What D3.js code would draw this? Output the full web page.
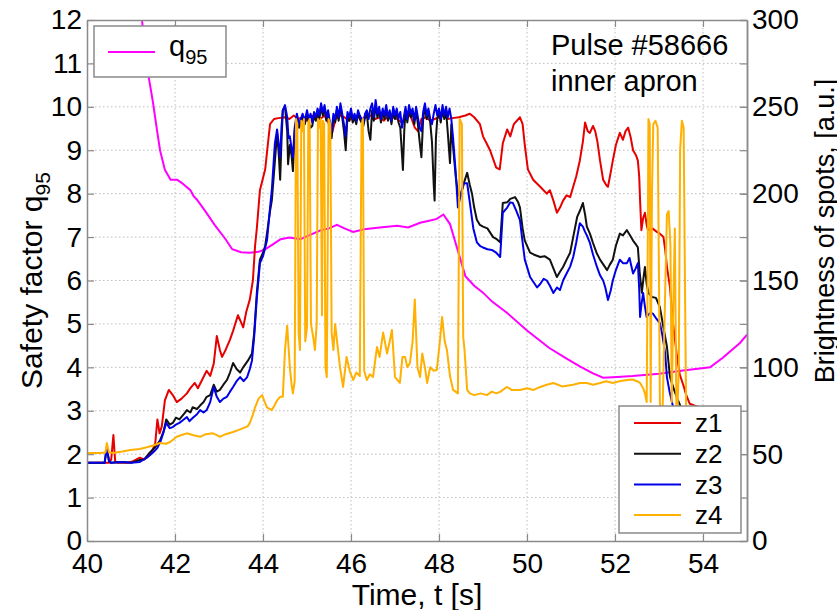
<!DOCTYPE html>
<html>
<head>
<meta charset="utf-8">
<script src="https://cdn.jsdelivr.net/npm/d3@7"></script>
<style>
  body { margin: 0; background: #fff; }
  text { font-family: "Liberation Sans", Arial, Helvetica, sans-serif; fill: #000; }
</style>
</head>
<body>
<div id="chart"></div>
<script>
// Pulse #58666 - safety factor and spot brightness vs time

// x ticks, y ticks
const timeTicks = [40, 42, 44, 46, 48, 50, 52, 54];
const qTicks = [0, 1, 2, 3, 4, 5, 6, 7, 8, 9, 10, 11, 12];
const brightTicks = [0, 50, 100, 150, 200, 250, 300];

// q95 on left axis: [t, q]
const q95 = [
  [41.1, 12.2], [41.25, 12.0], [41.35, 11.0], [41.45, 10.4], [41.5, 10.1], [41.6, 9.4], [41.66, 9.0],
  [41.77, 8.55], [41.9, 8.32], [42.05, 8.32], [42.15, 8.25], [42.35, 8.08], [42.42, 7.95], [42.5, 7.86],
  [42.7, 7.58], [42.9, 7.28], [43.15, 6.95], [43.3, 6.72], [43.5, 6.65], [43.7, 6.64], [43.9, 6.66],
  [44.05, 6.72], [44.25, 6.85], [44.4, 6.95], [44.6, 6.99], [44.85, 6.95], [45.07, 7.05], [45.3, 7.15],
  [45.5, 7.2], [45.68, 7.28], [45.85, 7.2], [46.05, 7.12], [46.3, 7.18], [46.65, 7.22], [47.05, 7.26],
  [47.3, 7.22], [47.57, 7.33], [47.8, 7.38], [47.95, 7.42], [48.1, 7.52], [48.25, 7.3], [48.43, 6.68],
  [48.6, 6.1], [48.8, 5.88], [49.0, 5.72], [49.2, 5.52], [49.55, 5.25], [50.0, 4.85], [50.5, 4.45],
  [50.9, 4.2], [51.2, 4.02], [51.5, 3.86], [51.73, 3.76], [52.05, 3.78], [52.4, 3.8], [53.0, 3.85],
  [53.5, 3.92], [54.16, 4.0], [54.45, 4.22], [54.84, 4.56], [55.0, 4.75]
];

// brightness z1..z4 on right axis: [t, a.u.]
const z1 = [
  [40.0, 45], [40.3, 45], [40.5, 45], [40.55, 47], [40.6, 61], [40.64, 46], [40.7, 45], [40.9, 45],
  [41.05, 46], [41.2, 48], [41.3, 47], [41.45, 50], [41.55, 56], [41.6, 70], [41.65, 62], [41.7, 66],
  [41.77, 81], [41.86, 87], [41.95, 84], [42.04, 80], [42.15, 82], [42.27, 85], [42.35, 88], [42.45, 91],
  [42.52, 88], [42.6, 92], [42.72, 98], [42.8, 95], [42.88, 102], [42.95, 118], [43.02, 110], [43.07, 106],
  [43.15, 110], [43.25, 116], [43.32, 121], [43.43, 130], [43.5, 126], [43.55, 123], [43.62, 132],
  [43.7, 139], [43.77, 150], [43.82, 170], [43.86, 180], [43.93, 202], [44.0, 209], [44.05, 214],
  [44.1, 226], [44.16, 240], [44.25, 243], [44.35, 243.5], [44.5, 244], [44.6, 243], [44.7, 245],
  [44.8, 243], [44.9, 244], [45.0, 242], [45.1, 245], [45.2, 244], [45.3, 243], [45.4, 245], [45.5, 240],
  [45.57, 235], [45.65, 243], [45.75, 245], [45.85, 244], [45.95, 242], [46.05, 244], [46.15, 245],
  [46.25, 243], [46.35, 244], [46.45, 245], [46.55, 243], [46.65, 244], [46.75, 242], [46.85, 245],
  [46.95, 244], [47.05, 243], [47.15, 241], [47.25, 244], [47.35, 245], [47.45, 238], [47.52, 236],
  [47.6, 243], [47.7, 244], [47.8, 242], [47.9, 243], [48.0, 244], [48.1, 245], [48.2, 243], [48.3, 243.5],
  [48.45, 244], [48.6, 245], [48.7, 246], [48.8, 244], [48.93, 240], [49.0, 233], [49.08, 229],
  [49.16, 225], [49.3, 215], [49.38, 214], [49.45, 229], [49.55, 237], [49.62, 233], [49.7, 240],
  [49.77, 242], [49.84, 244], [49.9, 240], [49.95, 228], [50.02, 214], [50.14, 208], [50.3, 204],
  [50.45, 200], [50.52, 202], [50.6, 196], [50.68, 189], [50.75, 192], [50.82, 196], [50.9, 199],
  [50.98, 198], [51.05, 204], [51.12, 210], [51.2, 219], [51.27, 230], [51.32, 241], [51.38, 236],
  [51.43, 235], [51.5, 239], [51.55, 236], [51.6, 230], [51.66, 219], [51.73, 208], [51.8, 205],
  [51.84, 204], [51.9, 212], [51.95, 219], [52.02, 228], [52.11, 235], [52.18, 231], [52.24, 236],
  [52.3, 238], [52.36, 232], [52.41, 225], [52.48, 222], [52.52, 219], [52.55, 210], [52.57, 196],
  [52.6, 179], [52.64, 186], [52.68, 189], [52.72, 182], [52.75, 179], [52.85, 180], [52.95, 178],
  [53.02, 177], [53.1, 175], [53.14, 168], [53.18, 158], [53.25, 146], [53.32, 125], [53.4, 108],
  [53.47, 96], [53.55, 90], [53.62, 84], [53.7, 79], [53.8, 78], [53.93, 77], [54.05, 75]
];

const z2 = [
  [40.0, 45], [40.4, 45], [40.45, 54], [40.5, 46], [40.55, 45], [40.8, 45.5], [41.0, 45], [41.2, 46.6],
  [41.3, 47], [41.43, 51], [41.55, 54], [41.66, 58], [41.74, 63], [41.8, 70], [41.88, 67], [41.95, 68],
  [42.02, 71], [42.1, 70], [42.2, 73], [42.27, 75.4], [42.35, 74], [42.4, 77], [42.5, 76], [42.57, 78],
  [42.65, 80], [42.72, 83], [42.8, 84], [42.88, 90], [42.95, 86], [43.02, 87], [43.1, 90], [43.18, 92.7],
  [43.25, 97], [43.32, 102.5], [43.4, 99], [43.48, 97], [43.55, 100], [43.66, 104], [43.75, 108],
  [43.8, 120], [43.86, 143], [43.93, 162], [44.0, 166], [44.05, 170], [44.09, 177], [44.16, 190],
  [44.2, 196], [44.25, 212], [44.32, 235], [44.36, 222], [44.39, 208], [44.42, 230], [44.45, 248],
  [44.5, 250], [44.55, 236], [44.57, 217], [44.61, 228], [44.65, 222], [44.68, 213], [44.72, 236],
  [44.77, 244], [44.82, 238], [44.86, 241], [44.9, 244], [44.95, 240], [45.0, 246], [45.04, 241],
  [45.08, 238], [45.12, 239], [45.16, 245], [45.2, 242], [45.24, 247], [45.28, 243], [45.32, 250],
  [45.36, 245], [45.4, 249], [45.44, 242], [45.48, 246], [45.52, 238], [45.56, 232], [45.6, 244],
  [45.64, 241], [45.68, 248], [45.72, 242], [45.76, 250], [45.8, 244], [45.84, 236], [45.88, 225],
  [45.92, 245], [45.96, 242], [46.0, 247], [46.04, 241], [46.08, 244], [46.12, 240], [46.16, 246],
  [46.2, 243], [46.24, 241], [46.28, 239], [46.32, 244], [46.36, 246], [46.4, 236], [46.44, 231],
  [46.48, 248], [46.52, 242], [46.56, 251], [46.6, 244], [46.64, 248], [46.68, 241], [46.72, 247],
  [46.76, 243], [46.8, 249], [46.84, 242], [46.88, 246], [46.92, 240], [46.96, 248], [47.0, 243],
  [47.04, 247], [47.08, 241], [47.12, 238], [47.16, 222], [47.18, 213.6], [47.21, 236], [47.24, 248],
  [47.28, 241], [47.32, 249], [47.36, 244], [47.4, 247], [47.44, 240], [47.48, 248], [47.52, 240],
  [47.56, 230], [47.6, 221], [47.64, 243], [47.68, 250], [47.72, 243], [47.76, 247], [47.8, 241],
  [47.84, 230], [47.88, 205], [47.9, 196], [47.93, 232], [47.96, 243], [48.0, 247], [48.04, 241],
  [48.08, 249], [48.12, 243], [48.16, 248], [48.2, 235], [48.25, 217.6], [48.28, 240], [48.32, 227],
  [48.38, 210], [48.43, 200], [48.48, 198], [48.55, 205], [48.64, 212], [48.7, 205], [48.75, 200],
  [48.8, 192], [48.86, 185], [48.93, 182], [49.0, 181], [49.1, 180], [49.23, 175], [49.3, 174],
  [49.39, 172], [49.45, 194.6], [49.55, 195], [49.62, 197], [49.73, 198], [49.8, 195], [49.84, 192],
  [49.9, 180], [49.95, 173], [50.07, 166], [50.15, 165], [50.3, 163.5], [50.4, 164], [50.52, 162],
  [50.6, 157], [50.68, 152], [50.75, 155], [50.82, 157.8], [50.9, 162], [50.98, 166], [51.05, 175],
  [51.14, 186.6], [51.2, 190], [51.27, 194.6], [51.32, 188], [51.36, 181], [51.43, 177], [51.5, 171.6],
  [51.58, 166], [51.66, 162], [51.74, 159], [51.82, 156], [51.88, 159], [51.95, 162], [52.02, 170],
  [52.11, 177], [52.18, 176], [52.27, 179], [52.34, 176], [52.41, 173], [52.47, 171], [52.52, 169],
  [52.56, 155], [52.61, 143], [52.65, 152], [52.68, 157.8], [52.72, 148], [52.76, 142.8], [52.84, 140.5],
  [52.93, 140], [53.02, 134.7], [53.1, 123], [53.18, 112], [53.25, 94.4], [53.33, 88], [53.4, 83],
  [53.5, 77], [53.58, 70]
];

const z3 = [
  [40.0, 45], [40.4, 45], [40.45, 53.6], [40.5, 46], [40.55, 45], [40.8, 45.5], [41.0, 45], [41.2, 45.5],
  [41.36, 48], [41.5, 51], [41.6, 53.6], [41.68, 58], [41.73, 62], [41.8, 68], [41.88, 65], [41.95, 65.6],
  [42.02, 67], [42.1, 68], [42.2, 70], [42.27, 71.4], [42.33, 69], [42.4, 70.8], [42.5, 73], [42.57, 75.4],
  [42.65, 74], [42.72, 75.4], [42.8, 80], [42.88, 88.7], [42.95, 83], [43.02, 80], [43.1, 82], [43.18, 83],
  [43.25, 86], [43.32, 88.7], [43.4, 92], [43.48, 94.4], [43.56, 92], [43.64, 94.4], [43.7, 99],
  [43.75, 104], [43.8, 118], [43.86, 140], [43.93, 160], [44.0, 164], [44.09, 173], [44.16, 192],
  [44.2, 202], [44.27, 229], [44.32, 237], [44.36, 228], [44.39, 221], [44.42, 238], [44.45, 248],
  [44.5, 251], [44.55, 244], [44.58, 232], [44.61, 233], [44.65, 226], [44.68, 221], [44.72, 238],
  [44.77, 246], [44.82, 240], [44.86, 243], [44.9, 246], [44.95, 242], [45.0, 248], [45.04, 243],
  [45.08, 246], [45.12, 241], [45.16, 247], [45.2, 244], [45.24, 249], [45.28, 245], [45.32, 252],
  [45.36, 247], [45.4, 251], [45.44, 244], [45.48, 248], [45.52, 241], [45.56, 236], [45.6, 246],
  [45.64, 243], [45.68, 250], [45.72, 244], [45.76, 252], [45.8, 246], [45.84, 240], [45.88, 233],
  [45.92, 247], [45.96, 244], [46.0, 249], [46.04, 243], [46.08, 246], [46.12, 242], [46.16, 248],
  [46.2, 245], [46.24, 243], [46.28, 241], [46.32, 246], [46.36, 248], [46.4, 243], [46.44, 249],
  [46.48, 252], [46.52, 244], [46.56, 254], [46.6, 246], [46.64, 250], [46.68, 243], [46.72, 249],
  [46.76, 245], [46.8, 251], [46.84, 244], [46.88, 248], [46.92, 242], [46.96, 250], [47.0, 245],
  [47.04, 249], [47.08, 243], [47.12, 247], [47.16, 238], [47.2, 244], [47.24, 250], [47.28, 243],
  [47.32, 251], [47.36, 246], [47.4, 249], [47.44, 242], [47.48, 250], [47.52, 244], [47.56, 238],
  [47.6, 236], [47.64, 247], [47.68, 252], [47.72, 245], [47.76, 249], [47.8, 243], [47.84, 240],
  [47.88, 246], [47.92, 251], [47.96, 245], [48.0, 249], [48.04, 243], [48.08, 251], [48.12, 245],
  [48.16, 250], [48.2, 244], [48.24, 249], [48.28, 243], [48.32, 232], [48.38, 212], [48.43, 192],
  [48.5, 200], [48.57, 206], [48.64, 206], [48.7, 195], [48.78, 180], [48.86, 172], [48.93, 170],
  [49.0, 169], [49.1, 168], [49.2, 167.6], [49.3, 166], [49.39, 163.5], [49.45, 189], [49.55, 192],
  [49.62, 195], [49.68, 194.6], [49.76, 190], [49.84, 184.8], [49.9, 172], [49.95, 162], [50.07, 152],
  [50.15, 149], [50.23, 146], [50.3, 148], [50.38, 151], [50.45, 150], [50.52, 147], [50.6, 142.8],
  [50.68, 146], [50.75, 144.5], [50.82, 150], [50.9, 154], [50.98, 158], [51.05, 163.5], [51.12, 172],
  [51.2, 183], [51.27, 181], [51.32, 178], [51.36, 176], [51.43, 171.6], [51.5, 165], [51.59, 157.8],
  [51.66, 153], [51.73, 150], [51.78, 146], [51.84, 138.8], [51.9, 144], [51.95, 150], [52.02, 156],
  [52.11, 162], [52.18, 160], [52.27, 160], [52.33, 163], [52.41, 154], [52.47, 157], [52.52, 160],
  [52.55, 145], [52.57, 129], [52.6, 136], [52.64, 142.8], [52.68, 135], [52.72, 129], [52.78, 131],
  [52.86, 131], [52.94, 128], [53.02, 125.5], [53.08, 118], [53.14, 108], [53.18, 94.4], [53.24, 86],
  [53.3, 79.5], [53.38, 70], [53.45, 62]
];

const z4 = [
  [40.0, 50.7], [40.3, 50.7], [40.42, 51], [40.45, 56.4], [40.5, 51], [40.6, 50.7], [40.8, 51.5],
  [40.98, 52.4], [41.2, 53], [41.36, 54], [41.5, 55], [41.66, 56.4], [41.8, 56], [41.89, 57], [42.04, 60],
  [42.15, 61], [42.27, 62], [42.4, 61], [42.57, 60], [42.7, 61.5], [42.86, 62], [42.95, 61], [43.02, 60],
  [43.15, 61.5], [43.32, 62.8], [43.45, 64], [43.55, 65], [43.65, 66], [43.7, 68], [43.76, 72],
  [43.82, 77], [43.9, 82], [43.98, 84], [44.04, 80], [44.09, 77], [44.2, 75.4], [44.26, 78], [44.32, 81],
  [44.39, 83], [44.45, 83], [44.5, 110], [44.55, 124], [44.58, 112], [44.61, 100], [44.65, 90],
  [44.68, 85], [44.72, 92], [44.75, 243], [44.78, 240], [44.81, 120], [44.84, 110], [44.87, 242],
  [44.9, 236], [44.93, 243], [44.96, 115], [45.0, 123], [45.03, 241], [45.06, 243], [45.09, 125],
  [45.14, 117.5], [45.18, 110], [45.22, 125], [45.25, 243], [45.28, 238], [45.31, 243], [45.34, 130],
  [45.36, 242], [45.39, 240], [45.42, 100], [45.45, 94.4], [45.49, 243], [45.53, 240], [45.56, 120],
  [45.6, 110], [45.64, 125], [45.68, 115.7], [45.75, 100], [45.82, 88.7], [45.9, 106], [45.97, 98],
  [46.05, 92.7], [46.12, 97], [46.2, 95], [46.24, 240], [46.27, 243], [46.3, 98], [46.36, 92.7],
  [46.43, 96], [46.5, 94.4], [46.59, 111.7], [46.65, 106], [46.73, 120], [46.82, 108], [46.88, 115],
  [46.93, 121.5], [47.0, 94.4], [47.11, 91], [47.17, 106], [47.23, 106], [47.28, 100], [47.34, 102.5],
  [47.4, 115], [47.45, 139], [47.51, 100], [47.57, 94.4], [47.62, 108], [47.68, 100], [47.73, 91],
  [47.8, 100], [47.88, 98], [47.95, 98.5], [48.02, 115], [48.07, 129], [48.13, 115], [48.18, 110],
  [48.25, 95], [48.32, 87], [48.43, 85], [48.47, 243], [48.52, 240], [48.55, 117.5], [48.58, 110],
  [48.64, 87], [48.7, 85], [48.8, 84], [48.95, 85], [49.09, 84], [49.2, 86], [49.3, 85], [49.4, 86],
  [49.5, 88], [49.55, 88.7], [49.65, 87], [49.84, 87], [50.0, 88], [50.15, 87], [50.3, 88.7], [50.45, 90],
  [50.6, 91], [50.8, 89], [51.05, 90], [51.2, 91], [51.36, 91], [51.5, 90], [51.66, 91], [51.8, 92],
  [51.95, 91], [52.1, 92], [52.27, 92.7], [52.4, 93], [52.5, 92], [52.57, 91], [52.64, 88], [52.68, 85],
  [52.72, 80], [52.74, 150], [52.76, 243], [52.79, 240], [52.81, 80], [52.84, 200], [52.87, 240],
  [52.92, 242], [52.97, 238], [53.0, 150], [53.02, 80], [53.07, 60], [53.12, 120], [53.18, 188],
  [53.22, 190], [53.26, 170], [53.29, 80], [53.32, 130], [53.36, 180], [53.4, 60], [53.45, 100],
  [53.48, 225], [53.52, 242], [53.56, 238], [53.6, 120], [53.63, 40], [53.7, 20]
];

const zSeries = [
  { name: 'z1', data: z1, color: '#e60000' },
  { name: 'z2', data: z2, color: '#111111' },
  { name: 'z3', data: z3, color: '#0000e6' },
  { name: 'z4', data: z4, color: '#ffb000' }
];

const width = 837, height = 610;
const margin = { top: 20, right: 90, bottom: 69, left: 87 };
const plotW = width - margin.left - margin.right;
const plotH = height - margin.top - margin.bottom;

const svg = d3.select('#chart').append('svg')
  .attr('width', width)
  .attr('height', height);

const x = d3.scaleLinear().domain([40, 55]).range([margin.left, margin.left + plotW]);
const yL = d3.scaleLinear().domain([0, 12]).range([margin.top + plotH, margin.top]);
const yR = d3.scaleLinear().domain([0, 300]).range([margin.top + plotH, margin.top]);

const axisColor = '#8a8a8a';

// grid
const grid = svg.append('g').attr('class', 'grid')
  .attr('stroke', '#bdbdbd').attr('stroke-width', 1).attr('stroke-dasharray', '1.5,2.5');
grid.selectAll('line.gx')
  .data(timeTicks.filter(d => d > 40))
  .enter().append('line')
  .attr('x1', d => x(d)).attr('x2', d => x(d))
  .attr('y1', margin.top).attr('y2', margin.top + plotH);
grid.selectAll('line.gy')
  .data(qTicks.filter(d => d > 0 && d < 12))
  .enter().append('line')
  .attr('x1', margin.left).attr('x2', margin.left + plotW)
  .attr('y1', d => yL(d)).attr('y2', d => yL(d));

// lines
svg.append('clipPath').attr('id', 'clip')
  .append('rect')
  .attr('x', margin.left).attr('y', margin.top)
  .attr('width', plotW).attr('height', plotH);

const plot = svg.append('g').attr('clip-path', 'url(#clip)');

const lineQ = d3.line().x(d => x(d[0])).y(d => yL(d[1]));
const lineZ = d3.line().x(d => x(d[0])).y(d => yR(d[1]));

plot.append('path')
  .datum(q95)
  .attr('fill', 'none')
  .attr('stroke', '#ff00ff')
  .attr('stroke-width', 2)
  .attr('d', lineQ);

zSeries.forEach(s => {
  plot.append('path')
    .datum(s.data)
    .attr('fill', 'none')
    .attr('stroke', s.color)
    .attr('stroke-width', 2)
    .attr('stroke-linejoin', 'round')
    .attr('d', lineZ);
});

// axes
function styleAxis(g) {
  g.select('.domain').attr('stroke', axisColor).attr('stroke-width', 1.5);
  g.selectAll('.tick line').attr('stroke', axisColor).attr('stroke-width', 1.2);
  g.selectAll('.tick text').style('font-size', '28px').attr('fill', '#000');
}

svg.append('g')
  .attr('transform', `translate(0,${margin.top + plotH})`)
  .call(d3.axisBottom(x).tickValues(timeTicks).tickSize(-7).tickSizeOuter(0).tickPadding(12))
  .call(styleAxis);

svg.append('g')
  .attr('transform', `translate(0,${margin.top})`)
  .call(d3.axisTop(x).tickValues(timeTicks).tickSize(-7).tickSizeOuter(0).tickFormat(''))
  .call(styleAxis);

svg.append('g')
  .attr('transform', `translate(${margin.left},0)`)
  .call(d3.axisLeft(yL).tickValues(qTicks).tickSize(-7).tickSizeOuter(0).tickPadding(5))
  .call(styleAxis);

svg.append('g')
  .attr('transform', `translate(${margin.left + plotW},0)`)
  .call(d3.axisRight(yL).tickValues(qTicks).tickSize(-7).tickSizeOuter(0).tickFormat(''))
  .call(styleAxis);

svg.append('g')
  .attr('transform', `translate(${margin.left + plotW},0)`)
  .call(d3.axisRight(yR).tickValues(brightTicks).tickSize(-7).tickSizeOuter(0).tickPadding(5))
  .call(styleAxis);

// axis titles
svg.append('text')
  .attr('x', margin.left + plotW / 2)
  .attr('y', 605)
  .attr('text-anchor', 'middle')
  .style('font-size', '30px')
  .text('Time, t [s]');

const leftTitle = svg.append('text')
  .attr('transform', `translate(42,${margin.top + plotH / 2}) rotate(-90)`)
  .attr('text-anchor', 'middle')
  .style('font-size', '30px');
leftTitle.append('tspan').text('Safety factor q');
leftTitle.append('tspan').attr('dy', 8).style('font-size', '21px').text('95');

svg.append('text')
  .attr('transform', 'translate(834,231) rotate(-90)')
  .attr('text-anchor', 'middle')
  .style('font-size', '27px')
  .text('Brightness of spots, [a.u.]');

// annotation
svg.append('text').attr('x', 551).attr('y', 55).style('font-size', '29px').text('Pulse #58666');
svg.append('text').attr('x', 551).attr('y', 91).style('font-size', '29px').text('inner apron');

// q95 legend
const legQ = svg.append('g');
legQ.append('rect')
  .attr('x', 94).attr('y', 26).attr('width', 132).attr('height', 51)
  .attr('fill', '#fff').attr('stroke', axisColor).attr('stroke-width', 1.5);
legQ.append('line')
  .attr('x1', 108).attr('x2', 155).attr('y1', 52).attr('y2', 52)
  .attr('stroke', '#ff00ff').attr('stroke-width', 2);
const legQText = legQ.append('text').attr('x', 169).attr('y', 56).style('font-size', '29px');
legQText.append('tspan').text('q');
legQText.append('tspan').attr('dy', 8).style('font-size', '20px').text('95');

// z legend
const legZ = svg.append('g');
legZ.append('rect')
  .attr('x', 619).attr('y', 406).attr('width', 122).attr('height', 127)
  .attr('fill', '#fff').attr('stroke', axisColor).attr('stroke-width', 1.5);
const items = legZ.selectAll('g.item')
  .data(zSeries)
  .enter().append('g')
  .attr('transform', (d, i) => `translate(0,${423 + i * 30.7})`);
items.append('line')
  .attr('x1', 634).attr('x2', 681)
  .attr('stroke', d => d.color).attr('stroke-width', 2);
items.append('text')
  .attr('x', 695).attr('dy', '0.36em')
  .style('font-size', '26px')
  .text(d => d.name);
</script>
</body>
</html>
